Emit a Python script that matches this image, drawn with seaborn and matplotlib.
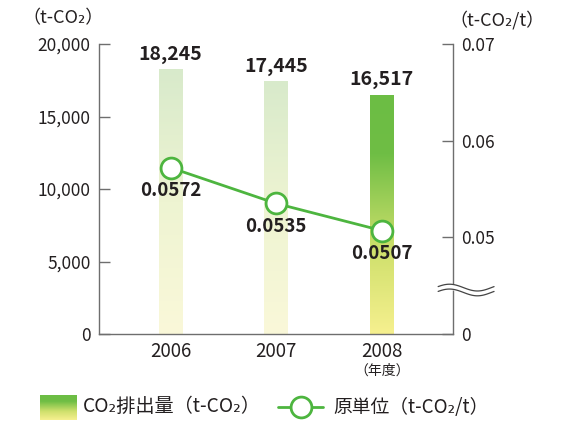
import numpy as np
import pandas as pd
import matplotlib
matplotlib.use("Agg")
import matplotlib.pyplot as plt
import seaborn as sns
from matplotlib.colors import LinearSegmentedColormap
from matplotlib.transforms import blended_transform_factory
from matplotlib.lines import Line2D

# ---- data ----
years = ["2006", "2007", "2008"]
emissions = [18245, 17445, 16517]
intensity = [0.0572, 0.0535, 0.0507]
emission_labels = ["18,245", "17,445", "16,517"]
intensity_labels = ["0.0572", "0.0535", "0.0507"]
left_ticks = [0, 5000, 10000, 15000, 20000]
left_ticklabels = ["0", "5,000", "10,000", "15,000", "20,000"]
right_ticks = [0.04, 0.05, 0.06, 0.07]
right_ticklabels = ["0", "0.05", "0.06", "0.07"]

sns.set_theme(style="white")
FAM = ["Noto Sans CJK JP", "DejaVu Sans"]
plt.rcParams["font.family"] = FAM

TXT = "#231f20"
AXC = "#6e6e6e"
LINE = "#4db53f"

fig = plt.figure(figsize=(5.79, 4.21), dpi=100)
ax = fig.add_axes([99 / 579, 87 / 421, 354 / 579, 290 / 421])

df = pd.DataFrame({"year": years, "emission": emissions})
sns.barplot(data=df, x="year", y="emission", ax=ax, width=0.225,
            color="white", edgecolor="none", linewidth=0)

light = LinearSegmentedColormap.from_list("light", ["#faf8d9", "#eef4d2", "#d8eacb"])
strong = LinearSegmentedColormap.from_list(
    "strong", [(0, "#f6f08f"), (0.35, "#cfe06c"), (0.75, "#6fbe45"), (1, "#6cbd44")])
cmaps = [light, light, strong]
grad = np.linspace(0, 1, 256).reshape(-1, 1)
for p, cm in zip(ax.patches, cmaps):
    x0, w, h = p.get_x(), p.get_width(), p.get_height()
    im = ax.imshow(grad, cmap=cm, origin="lower", aspect="auto",
                   extent=[x0, x0 + w, 0, h], zorder=2)
    im.set_clip_path(p)

ax.set_xlim(-0.68, 2.675)
ax.set_ylim(0, 20000)
ax.set_yticks(left_ticks)
ax.set_yticklabels(left_ticklabels)
ax.set_xlabel("")
ax.set_ylabel("")
for s in ["top", "right"]:
    ax.spines[s].set_visible(False)
for s in ["left", "bottom"]:
    ax.spines[s].set_color(AXC)
    ax.spines[s].set_linewidth(1.0)
ax.tick_params(axis="y", direction="in", length=8, width=1, color=AXC,
               labelsize=12.5, labelcolor=TXT, pad=6, left=True)
ax.tick_params(axis="x", length=0, labelsize=13.5, labelcolor=TXT, pad=5)

for i, (v, lab) in enumerate(zip(emissions, emission_labels)):
    ax.text(i, v + 350, lab, ha="center", va="bottom", fontsize=14,
            fontweight="bold", color=TXT, zorder=5)

ax2 = ax.twinx()
ax2.set_ylim(0.04, 0.07)
sns.lineplot(x=[0, 1, 2], y=intensity, ax=ax2, color=LINE, linewidth=2,
             marker="o", markersize=15, markerfacecolor="white",
             markeredgecolor=LINE, markeredgewidth=2, zorder=6)
ax2.set_xlim(-0.68, 2.675)
ax2.set_yticks(right_ticks)
ax2.set_yticklabels(right_ticklabels)
for s in ["top", "left", "bottom"]:
    ax2.spines[s].set_visible(False)
ax2.spines["right"].set_color(AXC)
ax2.spines["right"].set_linewidth(1.0)
ax2.tick_params(axis="y", direction="in", length=8, width=1, color=AXC,
                labelsize=12.5, labelcolor=TXT, pad=6, right=True)
ax2.set_ylabel("")

for i, (v, lab) in enumerate(zip(intensity, intensity_labels)):
    ax2.text(i, v - 0.00135, lab, ha="center", va="top", fontsize=13.5,
             fontweight="bold", color=TXT, zorder=7)

# axis break on right axis
tr = blended_transform_factory(ax2.transAxes, ax2.transData)
xs = np.linspace(0.958, 1.116, 80)
ph = (xs - xs[0]) / (xs[-1] - xs[0]) * 2 * np.pi
yc = 0.04455
amp = 0.00035
gap = 0.00025
y1 = yc + gap + amp * np.sin(ph + 0.3)
y2 = yc - gap + amp * np.sin(ph + 0.3)
ax2.fill_between(xs, y2, y1, transform=tr, color="white", clip_on=False, zorder=8)
ax2.plot(xs, y1, transform=tr, color="#444444", lw=0.9, clip_on=False, zorder=9)
ax2.plot(xs, y2, transform=tr, color="#444444", lw=0.9, clip_on=False, zorder=9)

# unit labels
fig.text(22 / 579, 1 - 18 / 421, "（t-CO₂）", fontsize=13, color=TXT,
         ha="left", va="center", family=FAM)
fig.text(449 / 579, 1 - 20 / 421, "（t-CO₂/t）", fontsize=13, color=TXT,
         ha="left", va="center", family=FAM)
fig.text(382 / 579, 1 - 371 / 421, "（年度）", fontsize=10, color=TXT,
         ha="center", va="center", family=FAM)

# legend
lax = fig.add_axes([40 / 579, 1 - 420 / 421, 37 / 579, 25 / 421])
lax.imshow(grad, cmap=strong, origin="lower", aspect="auto", extent=[0, 1, 0, 1])
lax.set_axis_off()
fig.text(83 / 579, 1 - 407 / 421, "CO₂排出量（t-CO₂）", fontsize=13.8, color=TXT,
         ha="left", va="center", family=FAM)
fig.add_artist(Line2D([278 / 579, 323 / 579], [1 - 407 / 421, 1 - 407 / 421],
                      color=LINE, lw=2, transform=fig.transFigure))
fig.add_artist(Line2D([301 / 579], [1 - 407 / 421], marker="o", markersize=15,
                      markerfacecolor="white", markeredgecolor=LINE,
                      markeredgewidth=2, transform=fig.transFigure))
fig.text(333 / 579, 1 - 407 / 421, "原単位（t-CO₂/t）", fontsize=13.5, color=TXT,
         ha="left", va="center", family=FAM)

fig.savefig("out.png", dpi=100, facecolor="white")
